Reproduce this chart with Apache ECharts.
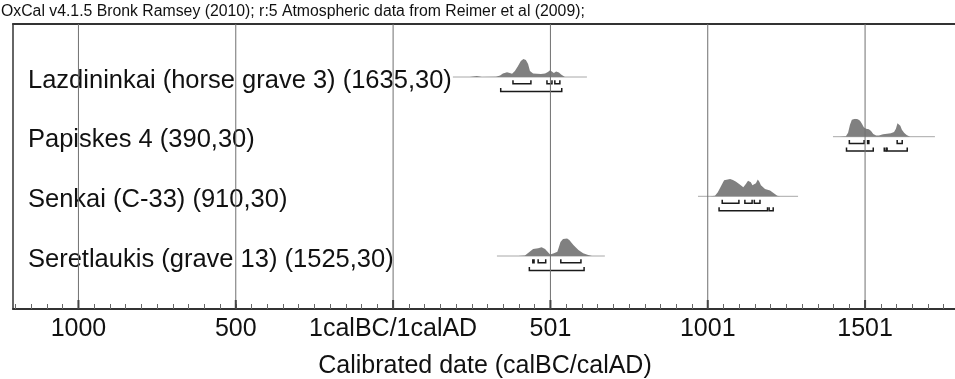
<!DOCTYPE html>
<html>
<head>
<meta charset="utf-8">
<title>OxCal multiplot</title>
<script src="https://cdn.jsdelivr.net/npm/echarts@6.0.0/dist/echarts.min.js"></script>
<style>
  html, body { margin: 0; padding: 0; background: #fff; overflow: hidden; }
  #chart { width: 955px; height: 379px; }
</style>
</head>
<body>
<div id="chart"></div>
<script>
const titleText = 'OxCal v4.1.5 Bronk Ramsey (2010); r:5 Atmospheric data from Reimer et al (2009);';
const axisName = 'Calibrated date (calBC/calAD)';
const rowNames = [
  'Lazdininkai (horse grave 3) (1635,30)',
  'Papiskes 4 (390,30)',
  'Senkai (C-33) (910,30)',
  'Seretlaukis (grave 13) (1525,30)'
];
// axis value = calendar year with 0 at the 1calBC/1calAD boundary
const majorTicks = [-1000, -500, 0, 500, 1000, 1500];
const tickLabels = ['1000', '500', '1calBC/1calAD', '501', '1001', '1501'];

// probability distributions (relative height)
const lazYears = [244, 266, 282, 327, 340, 349, 362, 371, 378, 387, 397, 406, 414, 422, 429, 435, 445, 457, 470, 483, 492, 499, 505, 511, 518, 522, 527, 534, 540, 546];
const lazProb  = [0, .06, 0, .02, .08, .19, .26, .22, .18, .33, .61, .89, 1.0, .94, .72, .33, .19, .18, .17, .19, .28, .37, .33, .22, .31, .33, .25, .14, .03, 0];
const papYears = [1420, 1439, 1446, 1452, 1458, 1468, 1477, 1484, 1490, 1496, 1503, 1512, 1519, 1526, 1535, 1544, 1557, 1570, 1582, 1592, 1598, 1603, 1608, 1612, 1617, 1624, 1632, 1643];
const papProb  = [0, .03, .22, .67, .94, 1.0, .97, .89, .72, .53, .44, .41, .31, .15, .07, .06, .13, .17, .19, .26, .44, .75, .82, .61, .39, .22, .09, 0];
const senYears = [1007, 1023, 1032, 1042, 1052, 1058, 1071, 1080, 1090, 1102, 1113, 1121, 1128, 1132, 1137, 1142, 1148, 1153, 1159, 1164, 1169, 1182, 1198, 1210, 1221, 1230];
const senProb  = [0, .03, .22, .56, .89, .96, .96, .91, .81, .65, .5, .68, .86, .91, .78, .61, .54, .72, .93, .81, .61, .41, .32, .17, .03, 0];
const serYears = [397, 419, 429, 435, 445, 461, 472, 483, 491, 499, 511, 522, 527, 532, 540, 546, 553, 560, 573, 589, 604, 620, 632];
const serProb  = [0, .03, .17, .28, .39, .43, .48, .39, .24, .09, .15, .24, .5, .78, .94, 1.0, .97, .89, .61, .33, .15, .06, 0];

// full calibrated span (thin baseline)
const lazSpan = [190, 616];
const papSpan = [1398, 1722];
const senSpan = [969, 1287];
const serSpan = [330, 673];

// 68.2% and 95.4% ranges
const laz68 = [[381, 438], [489, 505], [514, 530]];
const laz95 = [[342, 536]];
const pap68 = [[1450, 1497], [1508, 1512], [1602, 1618]];
const pap95 = [[1441, 1526], [1561, 1567], [1570, 1634]];
const sen68 = [[1046, 1099], [1118, 1141], [1148, 1166]];
const sen95 = [[1036, 1190], [1195, 1208]];
const ser68 = [[444, 448], [461, 485], [533, 597]];
const ser95 = [[433, 607]];

const rows = [
  { years: lazYears, prob: lazProb, span: lazSpan, r68: laz68, r95: laz95 },
  { years: papYears, prob: papProb, span: papSpan, r68: pap68, r95: pap95 },
  { years: senYears, prob: senProb, span: senSpan, r68: sen68, r95: sen95 },
  { years: serYears, prob: serProb, span: serSpan, r68: ser68, r95: ser95 }
];

// plot runs on past the right edge of the picture
const xMin = -1208, xMax = 1843;
const plotWidth = 960;
const rowBase = [77, 136.7, 196.3, 256];
const font = 'Liberation Sans, Arial, sans-serif';

let minorTicks = [];
for (let v = -1200; v < xMax; v += 50) minorTicks.push(v);

const chart = echarts.init(document.getElementById('chart'));

let grids = [{ left: 13, top: 24, width: plotWidth, height: 285, outerBoundsMode: 'none', containLabel: false }];
let xAxes = [
  {
    type: 'value', gridIndex: 0, min: xMin, max: xMax, position: 'bottom',
    axisLine: { show: true, onZero: false, lineStyle: { color: '#333', width: 2 } },
    axisTick: { show: true, inside: true, length: 5, customValues: minorTicks, lineStyle: { color: '#666', width: 1 } },
    axisLabel: {
      customValues: majorTicks,
      formatter: v => tickLabels[majorTicks.indexOf(v)],
      fontSize: 25, color: '#111', fontFamily: font, margin: 8
    },
    splitLine: { show: false }
  },
  {
    type: 'value', gridIndex: 0, min: xMin, max: xMax, position: 'top',
    axisLine: { show: true, onZero: false, lineStyle: { color: '#333', width: 2 } },
    axisTick: { show: false }, axisLabel: { show: false }, splitLine: { show: false }
  }
];
let yAxes = [{
  type: 'value', gridIndex: 0, min: 0, max: 1, position: 'left',
  axisLine: { show: true, onZero: false, lineStyle: { color: '#333', width: 1.5 } },
  axisTick: { show: false }, axisLabel: { show: false }, splitLine: { show: false }
}];

let series = [
  {
    // full-height grid lines plus a heavier tick at the foot of each
    type: 'custom',
    xAxisIndex: 0, yAxisIndex: 0,
    data: majorTicks,
    encode: { x: 0 },
    silent: true,
    z: 5,
    renderItem: function (params, api) {
      const p0 = api.coord([api.value(0), 0]);
      const p1 = api.coord([api.value(0), 1]);
      return {
        type: 'group',
        children: [
          { type: 'line', shape: { x1: p0[0], y1: p0[1], x2: p1[0], y2: p1[1] }, style: { stroke: '#707070', lineWidth: 1 } },
          { type: 'line', shape: { x1: p0[0], y1: p0[1], x2: p0[0], y2: p0[1] - 9 }, style: { stroke: '#444', lineWidth: 2 } }
        ]
      };
    }
  }
];

rows.forEach(function (row, i) {
  grids.push({ left: 13, top: rowBase[i] - 18, width: plotWidth, height: 36, outerBoundsMode: 'none', containLabel: false });
  xAxes.push({ type: 'value', gridIndex: i + 1, min: xMin, max: xMax, show: false });
  yAxes.push({
    type: 'value', gridIndex: i + 1, min: -1, max: 1,
    axisLine: { show: false }, axisTick: { show: false }, splitLine: { show: false },
    axisLabel: {
      show: true, inside: true, customValues: [0],
      formatter: () => '{n|' + rowNames[i] + '}',
      margin: 15, verticalAlign: 'middle',
      rich: {
        n: { fontSize: 25.5, color: '#111', fontFamily: font, padding: [7, 0, 0, 0] }
      }
    }
  });
  const xi = i + 2, yi = i + 1;
  series.push({
    type: 'line', xAxisIndex: xi, yAxisIndex: yi,
    data: [[row.span[0], 0], [row.span[1], 0]],
    symbol: 'none', silent: true, z: 1,
    lineStyle: { color: '#a8a8a8', width: 1 }
  });
  series.push({
    type: 'line', xAxisIndex: xi, yAxisIndex: yi,
    data: row.years.map((y, k) => [y, row.prob[k]]),
    symbol: 'none', silent: true, z: 2,
    lineStyle: { width: 0 },
    areaStyle: { color: '#808080', opacity: 1 }
  });
  series.push({
    type: 'custom', xAxisIndex: xi, yAxisIndex: yi,
    data: row.r68.map(r => [r[0], r[1], -0.38]).concat(row.r95.map(r => [r[0], r[1], -0.8])),
    encode: { x: [0, 1], y: 2 },
    silent: true, z: 3,
    renderItem: function (params, api) {
      const a = api.coord([api.value(0), api.value(2)]);
      const b = api.coord([api.value(1), api.value(2)]);
      return {
        type: 'polyline',
        shape: { points: [[a[0], a[1] - 3.5], a, b, [b[0], b[1] - 3.5]] },
        style: { stroke: '#1a1a1a', lineWidth: 1.5, fill: null }
      };
    }
  });
});

chart.setOption({
  animation: false,
  backgroundColor: '#fff',
  title: [
    {
      text: titleText, left: 1, top: 4, padding: 0,
      textStyle: { fontSize: 15.8, fontWeight: 'normal', color: '#111', fontFamily: font }
    },
    {
      text: axisName, left: 485, textAlign: 'center', top: 354, padding: 0,
      textStyle: { fontSize: 25, fontWeight: 'normal', color: '#111', fontFamily: font }
    }
  ],
  grid: grids,
  xAxis: xAxes,
  yAxis: yAxes,
  series: series
});
</script>
</body>
</html>
